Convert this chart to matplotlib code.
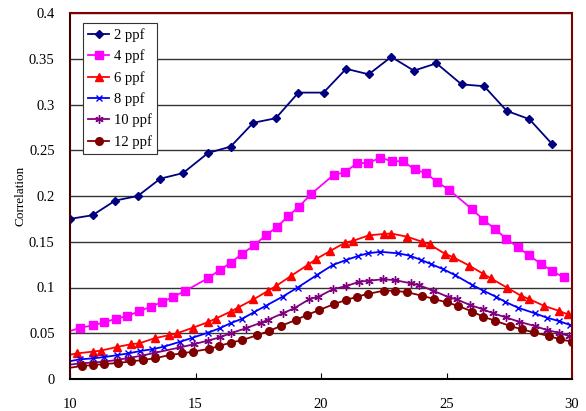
import matplotlib
matplotlib.use("Agg")
import matplotlib.pyplot as plt

# data
x_2ppf = [10.0, 10.9, 11.8, 12.7, 13.6, 14.5, 15.5, 16.4, 17.3, 18.2, 19.1,
          20.1, 21.0, 21.9, 22.8, 23.7, 24.6, 25.6, 26.5, 27.4, 28.3, 29.2]
y_2ppf = [0.175, 0.179, 0.195, 0.200, 0.219, 0.225, 0.247, 0.254, 0.280, 0.285, 0.313,
          0.313, 0.339, 0.333, 0.352, 0.337, 0.345, 0.322, 0.320, 0.293, 0.284, 0.257]

x_4ppf = [9.8, 10.4, 10.93, 11.37, 11.84, 12.29, 12.76, 13.21, 13.67, 14.12, 14.57,
          15.49, 15.96, 16.4, 16.87, 17.33, 17.8, 18.24, 18.69, 19.11, 19.6,
          20.5, 20.97, 21.43, 21.89, 22.36, 22.82, 23.27, 23.73, 24.17, 24.64, 25.09,
          26.0, 26.47, 26.93, 27.39, 27.84, 28.29, 28.76, 29.21, 29.67]
y_4ppf = [0.0505, 0.056, 0.0587, 0.062, 0.066, 0.069, 0.074, 0.079, 0.084, 0.090, 0.096,
          0.110, 0.119, 0.127, 0.137, 0.146, 0.157, 0.166, 0.178, 0.188, 0.202,
          0.223, 0.226, 0.236, 0.236, 0.242, 0.238, 0.238, 0.229, 0.225, 0.215, 0.207,
          0.186, 0.174, 0.164, 0.153, 0.144, 0.135, 0.126, 0.118, 0.111]

x_6ppf = [9.7, 10.29, 10.93, 11.23, 11.87, 12.43, 12.76, 13.37, 13.96, 14.27, 14.89,
          15.49, 15.8, 16.4, 16.69, 17.31, 17.9, 18.21, 18.8, 19.47, 19.8, 20.37,
          20.96, 21.28, 21.9, 22.5, 22.8, 23.43, 24.03, 24.33, 24.93, 25.27, 25.9,
          26.47, 26.77, 27.4, 27.97, 28.29, 28.9, 29.5, 29.83]
y_6ppf = [0.025, 0.028, 0.030, 0.031, 0.035, 0.038, 0.039, 0.0445, 0.048, 0.050, 0.056,
          0.062, 0.066, 0.0736, 0.078, 0.087, 0.0965, 0.1016, 0.1126, 0.1246, 0.131, 0.140,
          0.149, 0.151, 0.157, 0.1585, 0.159, 0.1555, 0.150, 0.147, 0.137, 0.133, 0.124,
          0.1148, 0.110, 0.100, 0.091, 0.0874, 0.0798, 0.0743, 0.0707]

x_8ppf = [9.8, 10.4, 10.93, 11.37, 11.87, 12.33, 12.8, 13.27, 13.73, 14.4, 14.87,
          15.49, 15.96, 16.4, 16.87, 17.33, 17.8, 18.47, 19.07, 19.84, 20.47, 21.0,
          21.47, 21.87, 22.36, 23.07, 23.53, 24.0, 24.4, 24.87, 25.33, 26.03, 26.47,
          26.96, 27.33, 27.84, 28.53, 29.0, 29.47, 29.93]
y_8ppf = [0.0185, 0.0215, 0.0226, 0.024, 0.026, 0.028, 0.0306, 0.0325, 0.0353, 0.0408, 0.045,
          0.0506, 0.0554, 0.061, 0.066, 0.073, 0.080, 0.090, 0.100, 0.1137, 0.1246, 0.130,
          0.1344, 0.1374, 0.139, 0.1374, 0.1348, 0.130, 0.1254, 0.120, 0.1137, 0.1027, 0.0965,
          0.090, 0.0845, 0.078, 0.0717, 0.067, 0.0634, 0.059]

x_10ppf = [9.8, 10.4, 10.93, 11.37, 11.87, 12.33, 12.87, 13.4, 14.4, 14.93, 15.49,
           15.96, 16.4, 17.0, 17.6, 17.87, 18.47, 18.93, 19.53, 19.9, 20.47, 21.0,
           21.53, 21.9, 22.47, 22.96, 23.57, 23.89, 24.47, 25.04, 25.4, 25.93, 26.47,
           26.87, 27.36, 27.89, 28.51, 29.0, 29.47, 29.87]
y_10ppf = [0.015, 0.0171, 0.018, 0.019, 0.0208, 0.023, 0.0255, 0.0288, 0.0346, 0.038, 0.0419,
           0.0455, 0.050, 0.0554, 0.0615, 0.0645, 0.0717, 0.0773, 0.0871, 0.090, 0.098, 0.1016,
           0.1063, 0.1074, 0.109, 0.108, 0.1046, 0.1027, 0.0965, 0.090, 0.087, 0.081, 0.076,
           0.0717, 0.0674, 0.0626, 0.058, 0.0535, 0.0506, 0.047]

x_12ppf = [9.8, 10.47, 10.93, 11.37, 11.93, 12.44, 12.91, 13.37, 13.97, 14.47, 14.91,
           15.53, 15.93, 16.4, 16.87, 17.47, 17.93, 18.4, 19.0, 19.44, 19.93, 20.53,
           21.0, 21.44, 21.87, 22.5, 22.93, 23.43, 24.03, 24.51, 25.0, 25.46, 26.03,
           26.47, 26.93, 27.53, 28.0, 28.47, 29.07, 29.53, 30.0]
y_12ppf = [0.0115, 0.0142, 0.0153, 0.0164, 0.0175, 0.0193, 0.0208, 0.0226, 0.0262, 0.028, 0.030,
           0.0328, 0.036, 0.0397, 0.0426, 0.048, 0.0525, 0.058, 0.0645, 0.070, 0.0754, 0.082,
           0.0863, 0.090, 0.093, 0.0965, 0.0965, 0.0948, 0.091, 0.0874, 0.0838, 0.080, 0.0736,
           0.068, 0.0637, 0.058, 0.0543, 0.051, 0.047, 0.0434, 0.0408]

labels = ["2 ppf", "4 ppf", "6 ppf", "8 ppf", "10 ppf", "12 ppf"]
x_ticks = [10, 15, 20, 25, 30]
y_ticks = [0, 0.05, 0.1, 0.15, 0.2, 0.25, 0.3, 0.35, 0.4]

plt.rcParams["font.family"] = ["Liberation Serif", "DejaVu Serif"]

fig = plt.figure(figsize=(5.86, 4.11), dpi=100)
ax = fig.add_axes([70 / 586, 1 - 379 / 411, 502 / 586, 366 / 411])

ax.plot(x_2ppf, y_2ppf, color="#000080", marker="D", ms=4.5, lw=1.3, label=labels[0])
ax.plot(x_4ppf, y_4ppf, color="#FF00FF", marker="s", ms=5.5, lw=1.3, label=labels[1])
ax.plot(x_6ppf, y_6ppf, color="#FF0000", marker="^", ms=6, lw=1.3, label=labels[2])
ax.plot(x_8ppf, y_8ppf, color="#0000FF", marker="x", ms=4, mew=1, lw=1.3, label=labels[3])
ax.plot(x_10ppf, y_10ppf, color="#800080", marker=(6, 2, 0), ms=6, mew=1, lw=1.3, label=labels[4])
ax.plot(x_12ppf, y_12ppf, color="#800000", marker="o", ms=5.5, lw=1.3, label=labels[5])

ax.set_xlim(10, 30)
ax.set_ylim(0, 0.4)
ax.set_xticks(x_ticks)
ax.set_xticklabels([str(t) for t in x_ticks])
ax.set_yticks(y_ticks)
ax.set_yticklabels(["0", "0.05", "0.1", "0.15", "0.2", "0.25", "0.3", "0.35", "0.4"])
ax.tick_params(axis="x", direction="in", length=4, pad=14, labelsize=10.5)
ax.tick_params(axis="y", length=0, pad=11, labelsize=10.5)
ax.yaxis.grid(True, color="#333333", lw=1)
ax.set_axisbelow(True)

for side in ["top", "right"]:
    ax.spines[side].set_color("#800000")
    ax.spines[side].set_linewidth(1.5)
ax.spines["left"].set_color("#400000")
ax.spines["left"].set_linewidth(1.5)
ax.spines["bottom"].set_color("black")
ax.spines["bottom"].set_linewidth(1.5)

ax.set_ylabel("Correlation", fontsize=9.5, labelpad=2)

leg = ax.legend(loc="upper left", bbox_to_anchor=(83 / 586, 1 - 23 / 411),
                bbox_transform=fig.transFigure, fontsize=10.5, frameon=True,
                fancybox=False, edgecolor="#333333", framealpha=1,
                borderpad=0.35, labelspacing=0.52, handlelength=1.45,
                handletextpad=0.3, borderaxespad=0)
leg.get_frame().set_linewidth(0.8)

fig.savefig("out.png", dpi=100)
